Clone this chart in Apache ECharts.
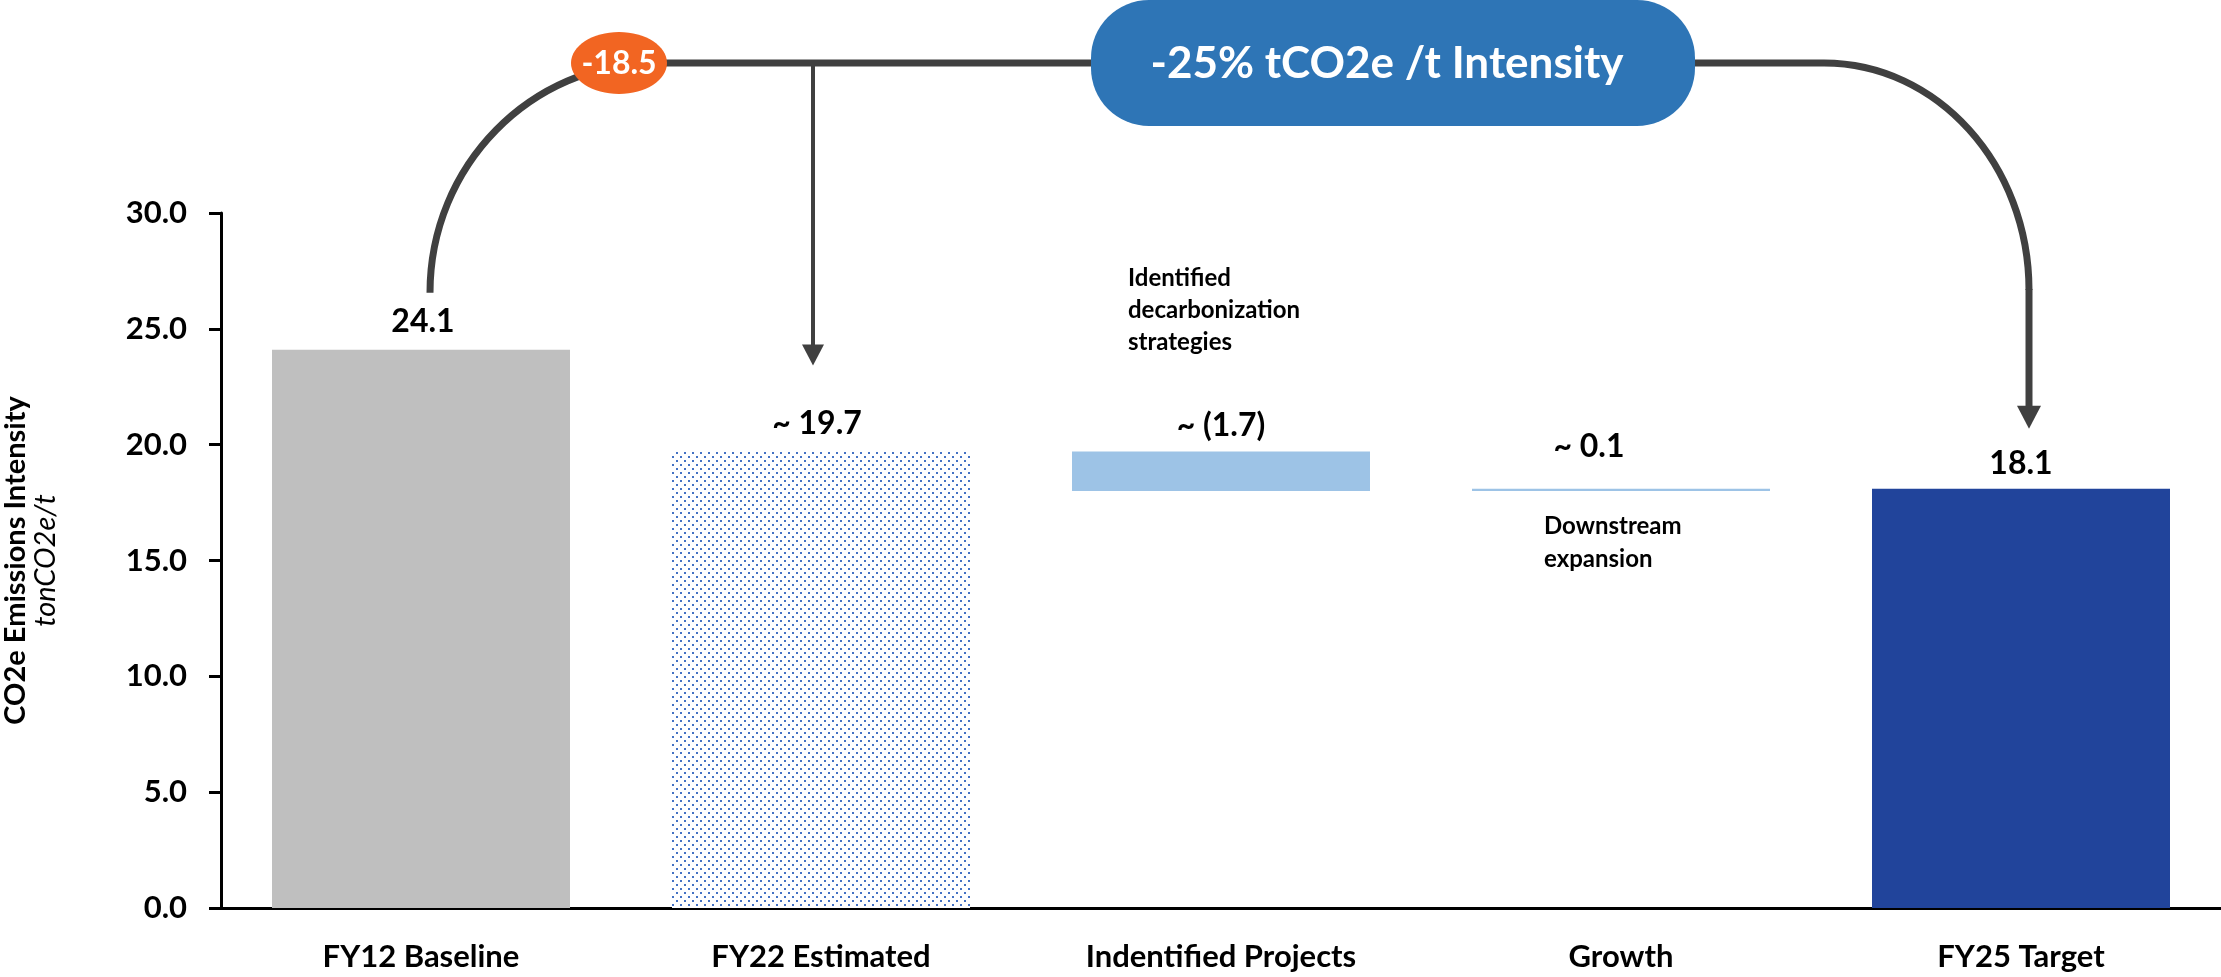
<!DOCTYPE html>
<html>
<head>
<meta charset="utf-8">
<script src="https://cdn.jsdelivr.net/npm/echarts@6/dist/echarts.min.js"></script>
<style>
  html, body { margin: 0; padding: 0; background: #fff; }
  #chart { width: 2221px; height: 977px; }
</style>
</head>
<body>
<div id="chart"></div>
<script>
// data
var categories = ['FY12 Baseline', 'FY22 Estimated', 'Indentified Projects', 'Growth', 'FY25 Target'];
var baseValues = [0, 0, 18.0, 18.0, 0];          // invisible offset for the floating bars
var barValues = [24.1, 19.7, 1.7, 0.1, 18.1];
var barLabels = ['24.1', '~ 19.7', '~ (1.7)', '~ 0.1', '18.1'];
var yTicks = { min: 0, max: 30, interval: 5 };
var changeLabel = '-18.5';
var targetLabel = '-25% tCO2e /t Intensity';
var projectNote = 'Identified\ndecarbonization\nstrategies';
var growthNote = 'Downstream\nexpansion';

var FONT = 'Lato, "Noto Sans", sans-serif';

// dotted fill for the FY22 bar
function dotPattern() {
    var c = document.createElement('canvas');
    c.width = 8; c.height = 8;
    var ctx = c.getContext('2d');
    ctx.fillStyle = '#ffffff';
    ctx.fillRect(0, 0, 8, 8);
    ctx.fillStyle = '#4472C4';
    ctx.fillRect(0, 0, 2, 2);
    ctx.fillRect(4, 4, 2, 2);
    return c;
}

var barColors = ['#BFBFBF', { image: dotPattern(), repeat: 'repeat' }, '#9DC3E6', '#9DC3E6', '#21449B'];
var labelDist = [12, 12, 10, 26, 9];
var labelOffset = [[2, 0], [-4, 0], [0, 0], [-32, 0], [0, 0]];

var chart = echarts.init(document.getElementById('chart'));

var option = {
    animation: false,
    backgroundColor: '#ffffff',
    grid: { left: 221, right: 0, top: 213, bottom: 69, outerBoundsMode: 'none' },
    xAxis: {
        type: 'category',
        data: categories,
        axisLine: { lineStyle: { color: '#000', width: 3 } },
        axisTick: { show: false },
        axisLabel: {
            margin: 33,
            color: '#000',
            fontFamily: FONT,
            fontWeight: 'bold',
            fontSize: 31
        }
    },
    yAxis: {
        type: 'value',
        min: yTicks.min,
        max: yTicks.max,
        interval: yTicks.interval,
        name: '{a|CO2e Emissions Intensity}\n{b|tonCO2e/t}',
        nameLocation: 'middle',
        nameRotate: 90,
        nameGap: 160,
        nameTextStyle: {
            rich: {
                a: { fontFamily: FONT, fontWeight: 'bold', fontSize: 29, color: '#000', lineHeight: 30 },
                b: { fontFamily: FONT, fontStyle: 'italic', fontSize: 29, color: '#000', lineHeight: 30 }
            }
        },
        axisLine: { show: true, lineStyle: { color: '#000', width: 3 } },
        axisTick: { show: true, inside: false, length: 12, lineStyle: { color: '#000', width: 3 } },
        splitLine: { show: false },
        axisLabel: {
            margin: 34,
            color: '#000',
            fontFamily: FONT,
            fontWeight: 'bold',
            fontSize: 31,
            formatter: function (v) { return v.toFixed(1); }
        }
    },
    series: [
        {
            name: 'base',
            type: 'bar',
            stack: 'total',
            barWidth: 298,
            itemStyle: { color: 'transparent' },
            silent: true,
            data: baseValues
        },
        {
            name: 'value',
            type: 'bar',
            stack: 'total',
            barWidth: 298,
            data: barValues.map(function (v, i) {
                return {
                    value: v,
                    itemStyle: { color: barColors[i] },
                    label: {
                        show: true,
                        position: 'top',
                        distance: labelDist[i],
                        offset: labelOffset[i],
                        formatter: barLabels[i],
                        color: '#000',
                        fontFamily: FONT,
                        fontWeight: 'bold',
                        fontSize: 32
                    }
                };
            })
        }
    ]
};

chart.setOption(option);

// annotation connectors, placed from the axis scale
function px(i, v) { return chart.convertToPixel({ gridIndex: 0 }, [i, v]); }

var first = px(0, barValues[0]);
var mid = px(1, barValues[1]);
var last = px(4, barValues[4]);
var proj = px(2, baseValues[2] + barValues[2]);
var grow = px(3, baseValues[3] + barValues[3]);

var lineY = 63;
var k = 0.5523;
var stroke = '#404040';

// left curve: from above FY12 up to the bracket line
var x0 = first[0] + 9, y0 = first[1] - 57;
var x1 = x0 + 225;
// right curve: bracket line down to FY25
var xr = last[0] + 8, yv = 290;
var xs = xr - 205;
var tipR = last[1] - 60;
// middle arrow to FY22
var xm = mid[0] - 8;
var tipM = mid[1] - 86;

var pillW = 604, pillH = 126;
var pillCx = proj[0] + 0.43 * (grow[0] - proj[0]);

var graphic = [
    {
        type: 'bezierCurve', z: 10,
        shape: { x1: x0, y1: y0, cpx1: x0, cpy1: y0 - k * (y0 - lineY), cpx2: x1 - k * (x1 - x0), cpy2: lineY, x2: x1, y2: lineY },
        style: { stroke: stroke, lineWidth: 7, fill: null }
    },
    {
        type: 'line', z: 10,
        shape: { x1: x1, y1: lineY, x2: xs, y2: lineY },
        style: { stroke: stroke, lineWidth: 7 }
    },
    {
        type: 'bezierCurve', z: 10,
        shape: { x1: xs, y1: lineY, cpx1: xs + k * (xr - xs), cpy1: lineY, cpx2: xr, cpy2: yv - k * (yv - lineY), x2: xr, y2: yv },
        style: { stroke: stroke, lineWidth: 7, fill: null }
    },
    {
        type: 'line', z: 10,
        shape: { x1: xr, y1: yv - 1, x2: xr, y2: tipR - 20 },
        style: { stroke: stroke, lineWidth: 7 }
    },
    {
        type: 'polygon', z: 10,
        shape: { points: [[xr - 12, tipR - 23], [xr + 12, tipR - 23], [xr, tipR]] },
        style: { fill: stroke }
    },
    {
        type: 'line', z: 10,
        shape: { x1: xm, y1: lineY, x2: xm, y2: tipM - 18 },
        style: { stroke: stroke, lineWidth: 4 }
    },
    {
        type: 'polygon', z: 10,
        shape: { points: [[xm - 11, tipM - 21], [xm + 11, tipM - 21], [xm, tipM]] },
        style: { fill: stroke }
    },
    {
        type: 'ellipse', z: 20,
        shape: { cx: x1 - 36, cy: lineY, rx: 48, ry: 31 },
        style: { fill: '#F26522' }
    },
    {
        type: 'text', z: 21,
        x: x1 - 36, y: lineY + 1,
        style: { text: changeLabel, fill: '#fff', fontFamily: FONT, fontWeight: 'bold', fontSize: 32, align: 'center', verticalAlign: 'middle' }
    },
    {
        type: 'rect', z: 20,
        shape: { x: pillCx - pillW / 2, y: lineY - pillH / 2, width: pillW, height: pillH, r: 58 },
        style: { fill: '#2E75B6' }
    },
    {
        type: 'text', z: 21,
        x: pillCx - 6, y: lineY + 1,
        style: { text: targetLabel, fill: '#fff', fontFamily: FONT, fontWeight: 'bold', fontSize: 44, align: 'center', verticalAlign: 'middle' }
    },
    {
        type: 'text', z: 21,
        x: proj[0] - 93, y: 262,
        style: { text: projectNote, fill: '#000', fontFamily: FONT, fontWeight: 'bold', fontSize: 24, lineHeight: 32, align: 'left', verticalAlign: 'top' }
    },
    {
        type: 'text', z: 21,
        x: grow[0] - 77, y: grow[1] + 21,
        style: { text: growthNote, fill: '#000', fontFamily: FONT, fontWeight: 'bold', fontSize: 24, lineHeight: 33, align: 'left', verticalAlign: 'top' }
    }
];

chart.setOption({ graphic: graphic });
</script>
</body>
</html>
